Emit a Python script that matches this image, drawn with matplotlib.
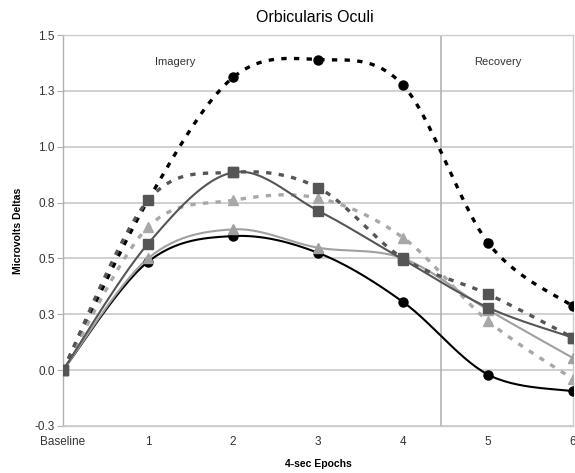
import matplotlib
matplotlib.use("Agg")
import matplotlib.pyplot as plt
import numpy as np

plt.rcParams['font.family'] = ['Liberation Sans', 'DejaVu Sans']

# epochs (0 = Baseline)
epochs = [0, 1, 2, 3, 4, 5, 6]
tick_labels = ["Baseline", "1", "2", "3", "4", "5", "6"]

black_dash = [0.0, 0.76, 1.31, 1.39, 1.275, 0.57, 0.285]
black_solid = [0.0, 0.485, 0.60, 0.525, 0.305, -0.02, -0.095]
gray_solid = [0.0, 0.566, 0.885, 0.714, 0.495, 0.28, 0.145]
gray_dash = [0.0, 0.76, 0.885, 0.817, 0.50, 0.34, 0.145]
light_dash = [0.0, 0.64, 0.76, 0.77, 0.593, 0.22, -0.04]
light_solid = [0.0, 0.50, 0.63, 0.548, 0.50, 0.27, 0.054]

y_ticks = [-0.25, 0, 0.25, 0.5, 0.75, 1.0, 1.25, 1.5]
y_labels = ["-0.3", "0.0", "0.3", "0.5", "0.8", "1.0", "1.3", "1.5"]
recovery_start = 4.45


def smooth(x, y, n=30):
    # Catmull-Rom curve through the points, like Excel's smoothed lines
    x = np.asarray(x, float)
    y = np.asarray(y, float)
    px = np.concatenate([[x[0]], x, [x[-1]]])
    py = np.concatenate([[y[0]], y, [y[-1]]])
    xs, ys = [], []
    t = np.linspace(0, 1, n)
    for i in range(1, len(px) - 2):
        p0, p1, p2, p3 = [np.array([px[j], py[j]]) for j in (i - 1, i, i + 1, i + 2)]
        c1 = p1 + (p2 - p0) / 6
        c2 = p2 - (p3 - p1) / 6
        pts = (np.outer((1 - t) ** 3, p1) + np.outer(3 * (1 - t) ** 2 * t, c1)
               + np.outer(3 * (1 - t) * t ** 2, c2) + np.outer(t ** 3, p2))
        xs.extend(pts[:, 0])
        ys.extend(pts[:, 1])
    return xs, ys


fig = plt.figure(figsize=(5.75, 4.73), dpi=100)
ax = fig.add_axes([0.1096, 0.0994, 0.887, 0.8266])

series = [
    (black_dash, '#000000', '--', 2.4, 'o', 6.5),
    (black_solid, '#000000', '-', 1.5, 'o', 6.5),
    (light_solid, '#a0a0a0', '-', 1.5, '^', 6.5),
    (light_dash, '#a8a8a8', '--', 2.4, '^', 6.5),
    (gray_solid, '#555555', '-', 1.5, 's', 6.5),
    (gray_dash, '#555555', '--', 2.4, 's', 7),
]

for vals, col, ls, lw, mk, ms in series:
    sx, sy = smooth(epochs, vals)
    line, = ax.plot(sx, sy, color=col, linestyle=ls, linewidth=lw, zorder=3)
    if ls == '--':
        line.set_dashes((1.6, 2.2))
    ax.plot(epochs, vals, linestyle='none', marker=mk, markersize=ms,
            color=col, markeredgecolor=col, zorder=4)

ax.set_xlim(0, 6)
ax.set_ylim(-0.25, 1.5)
ax.set_yticks(y_ticks)
ax.set_yticklabels(y_labels)
ax.set_xticks(epochs)
ax.set_xticklabels(tick_labels)
ax.grid(axis='y', color='#c8c8c8', linewidth=1.2, zorder=1)
ax.set_axisbelow(True)
ax.axvline(recovery_start, color='#b4b4b4', linewidth=1.2, zorder=2)

for s in ax.spines.values():
    s.set_color('#cccccc')
    s.set_linewidth(1.0)
ax.spines['left'].set_color('#b0b0b0')

ax.tick_params(axis='y', length=4, color='#b0b0b0', labelsize=8.5, labelcolor='#333333', pad=2)
ax.tick_params(axis='x', length=0, labelsize=8.5, labelcolor='#333333', pad=7)

ax.text(1.32, 1.38, "Imagery", fontsize=8, color='#333333', ha='center', va='center')
ax.text(5.12, 1.38, "Recovery", fontsize=8, color='#333333', ha='center', va='center')

fig.text(0.548, 0.962, "Orbicularis Oculi", fontsize=11.5, ha='center', va='center')
ax.set_xlabel("4-sec Epochs", fontsize=7.5, fontweight='bold', labelpad=8)
ax.set_ylabel("Microvolts Deltas", fontsize=7.5, fontweight='bold', labelpad=8)

fig.savefig("out.png", dpi=100)
